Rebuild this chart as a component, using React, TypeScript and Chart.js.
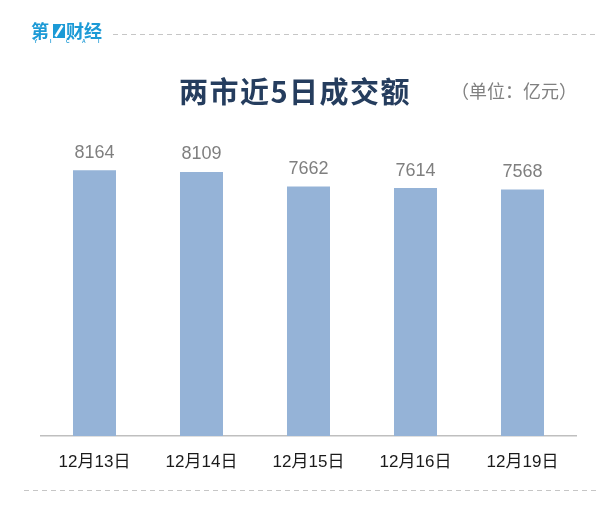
import React, { useEffect, useRef } from "react";
import { Chart, registerables } from "chart.js";

Chart.register(...registerables);

const categories = ["12月13日", "12月14日", "12月15日", "12月16日", "12月19日"];
const turnover = [8164, 8109, 7662, 7614, 7568];
const titleText = "两市近5日成交额";
const unitText = "（单位：亿元）";

const decorPlugin = {
  id: "decor",
  afterDraw(chart: any) {
    const ctx = chart.ctx as CanvasRenderingContext2D;
    ctx.save();
    // dashed lines
    ctx.strokeStyle = "#c6c6c6";
    ctx.lineWidth = 1;
    ctx.setLineDash([5, 4]);
    ctx.beginPath();
    ctx.moveTo(113, 34.5);
    ctx.lineTo(598, 34.5);
    ctx.moveTo(24, 490.5);
    ctx.lineTo(598, 490.5);
    ctx.stroke();
    ctx.setLineDash([]);

    // logo
    const blue = "#1c9ad6";
    ctx.fillStyle = blue;
    ctx.font = "bold 18px 'Noto Sans CJK SC'";
    ctx.textBaseline = "middle";
    ctx.textAlign = "left";
    ctx.fillText("第", 31, 31);
    ctx.fillRect(53, 24, 12, 14);
    ctx.strokeStyle = "#ffffff";
    ctx.lineWidth = 2.5;
    ctx.beginPath();
    ctx.moveTo(55.5, 36.5);
    ctx.lineTo(62.5, 25.5);
    ctx.stroke();
    ctx.fillText("财经", 66, 31);
    ctx.font = "bold 5px 'Liberation Sans'";
    const yicai = ["Y", "I", "C", "A", "I"];
    yicai.forEach((ch, i) => {
      ctx.fillText(ch, 34 + i * 16, 41.5);
    });

    // title
    ctx.fillStyle = "#253d5e";
    ctx.font = "bold 29px 'Noto Sans CJK SC'";
    ctx.textAlign = "center";
    (ctx as any).letterSpacing = "1.5px";
    ctx.fillText(titleText, 295, 92);
    (ctx as any).letterSpacing = "0px";

    // unit
    ctx.fillStyle = "#808080";
    ctx.font = "18px 'Noto Sans CJK SC'";
    ctx.fillText(unitText, 514, 91);

    // value labels
    const meta = chart.getDatasetMeta(0);
    ctx.fillStyle = "#7f7f7f";
    ctx.font = "18px 'Liberation Sans'";
    ctx.textBaseline = "middle";
    meta.data.forEach((bar: any, i: number) => {
      ctx.fillText(String(turnover[i]), bar.x, bar.y - 17.5);
    });
    ctx.restore();
  },
};

export default function App() {
  const ref = useRef<HTMLCanvasElement | null>(null);
  useEffect(() => {
    if (!ref.current) return;
    const chart = new Chart(ref.current, {
      type: "bar",
      data: {
        labels: categories,
        datasets: [
          {
            data: turnover,
            backgroundColor: "#95b3d7",
            borderWidth: 0,
            categoryPercentage: 1,
            barPercentage: 0.402,
          },
        ],
      },
      options: {
        responsive: false,
        animation: false,
        layout: { padding: { left: 41, right: 40, top: 143, bottom: 23.6 } },
        plugins: { legend: { display: false }, tooltip: { enabled: false } },
        scales: {
          x: {
            grid: { display: false, drawTicks: false },
            border: { display: true, color: "#bfbfbf", width: 1.5 },
            ticks: {
              padding: 16,
              color: "#1a1a1a",
              font: { size: 17, family: "'Liberation Sans', 'Noto Sans CJK SC'" },
              maxRotation: 0,
            },
          },
          y: { display: false, min: 0, max: 9000 },
        },
      },
      plugins: [decorPlugin],
    });
    return () => chart.destroy();
  }, []);
  return (
    <div style={{ position: "absolute", left: 0, top: 0, width: 616, height: 512, background: "#fff" }}>
      <canvas ref={ref} width={616} height={512} />
    </div>
  );
}
